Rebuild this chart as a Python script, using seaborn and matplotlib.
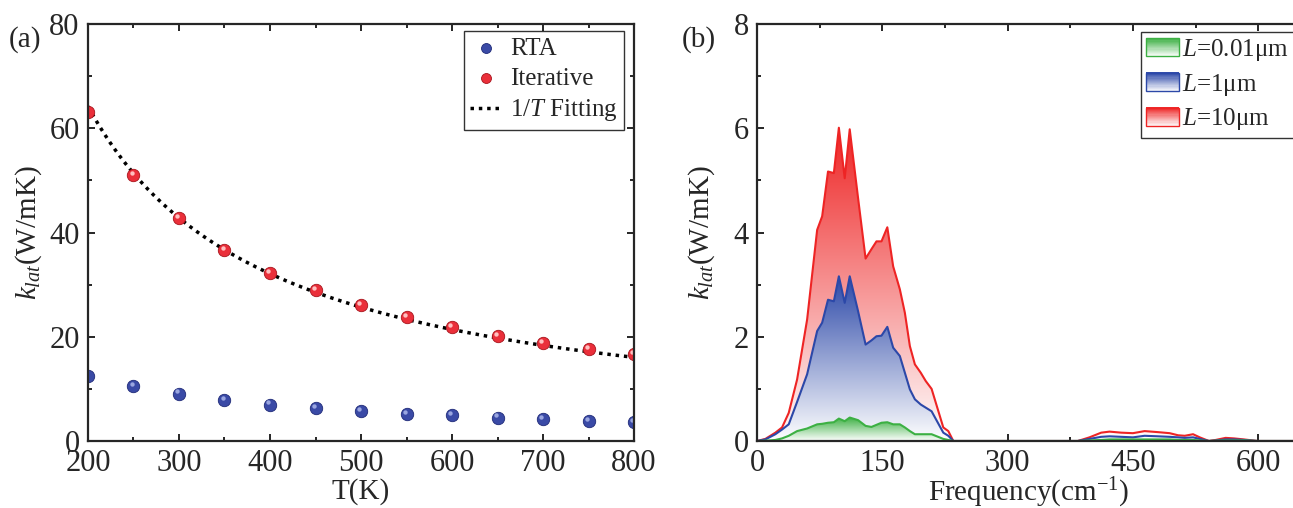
import numpy as np
import matplotlib
matplotlib.use("Agg")
import matplotlib.pyplot as plt
import matplotlib.colors as mcolors
from matplotlib.patches import Rectangle
from matplotlib.legend_handler import HandlerBase
from matplotlib.transforms import offset_copy
from matplotlib.ticker import MultipleLocator
import seaborn as sns

# ---------------- data ----------------
temperature = [200, 250, 300, 350, 400, 450, 500, 550, 600, 650, 700, 750, 800]
k_rta = [12.5, 10.6, 9.1, 7.9, 7.0, 6.3, 5.7, 5.2, 4.9, 4.5, 4.2, 3.9, 3.6]
k_iter = [63.2, 51.1, 42.8, 36.7, 32.3, 28.9, 26.0, 23.8, 21.8, 20.1, 18.8, 17.6, 16.6]

freq = [0, 10, 22, 30, 38, 48, 60, 72, 78, 85, 92, 98, 105, 111, 121, 130, 137, 143, 149, 156,
        163, 171, 177, 183, 189, 196, 202, 209, 223, 229, 235, 240,
        384, 398, 412, 422, 436, 450, 464, 480, 494, 504, 512, 522, 530, 541, 549, 561,
        571, 583, 599, 645]
k_L10 = [0, 0.04, 0.16, 0.26, 0.54, 1.18, 2.33, 4.05, 4.31, 5.17, 5.14, 6.01, 5.04, 5.98, 4.66, 3.50, 3.68, 3.83, 3.83, 4.10,
         3.35, 2.91, 2.46, 1.82, 1.47, 1.31, 1.15, 1.00, 0.26, 0.19, 0, 0,
         0, 0.07, 0.16, 0.18, 0.16, 0.15, 0.19, 0.17, 0.15, 0.11, 0.10, 0.13, 0.07, 0, 0.02, 0.06,
         0.05, 0.03, 0, 0]
k_L1 = [0, 0.03, 0.13, 0.22, 0.32, 0.75, 1.28, 2.11, 2.27, 2.71, 2.68, 3.16, 2.65, 3.16, 2.49, 1.85, 1.93, 2.01, 2.02, 2.19,
        1.79, 1.63, 1.31, 0.99, 0.80, 0.70, 0.64, 0.57, 0.16, 0.10, 0, 0,
        0, 0.04, 0.08, 0.09, 0.08, 0.07, 0.10, 0.09, 0.08, 0.07, 0.06, 0.07, 0.04, 0, 0.01, 0.03,
        0.03, 0.02, 0, 0]
k_L001 = [0, 0.005, 0.02, 0.05, 0.10, 0.19, 0.24, 0.32, 0.33, 0.35, 0.36, 0.43, 0.38, 0.45, 0.40, 0.29, 0.27, 0.31, 0.35, 0.36,
          0.32, 0.32, 0.26, 0.19, 0.13, 0.13, 0.13, 0.13, 0.04, 0.02, 0, 0,
          0, 0.01, 0.02, 0.03, 0.03, 0.03, 0.03, 0.03, 0.03, 0.02, 0.02, 0.02, 0.01, 0, 0.005, 0.01,
          0.01, 0.01, 0, 0]
length_labels = ["$L$=0.01μm", "$L$=1μm", "$L$=10μm"]

# ---------------- style ----------------
sns.set_style("ticks")
plt.rcParams["font.family"] = ["Liberation Serif", "DejaVu Serif"]
plt.rcParams["mathtext.fontset"] = "custom"
plt.rcParams["mathtext.rm"] = "Liberation Serif"
plt.rcParams["mathtext.it"] = "Liberation Serif:italic"
plt.rcParams["mathtext.bf"] = "Liberation Serif:bold"
plt.rcParams["axes.linewidth"] = 1.6
plt.rcParams["xtick.direction"] = "in"
plt.rcParams["ytick.direction"] = "in"

W, H = 1293, 508
fig = plt.figure(figsize=(W / 100, H / 100), dpi=100)
ax1 = fig.add_axes([88 / W, 1 - 441 / H, (634 - 88) / W, (441 - 24) / H])
ax2 = fig.add_axes([757 / W, 1 - 441 / H, 543 / W, (441 - 24) / H])

TICK_FS = 22
LABEL_FS = 21
LEG_FS = 18

def style_ax(ax):
    ax.tick_params(which="both", top=True, right=True, direction="in", width=1.4,
                   labelsize=TICK_FS, pad=6)
    ax.tick_params(which="major", length=5)
    ax.tick_params(which="minor", length=3)
    for s in ax.spines.values():
        s.set_linewidth(1.6)
        s.set_zorder(10)

# ---------------- panel (a) ----------------
blue = "#3a4aa6"
red = "#ea2f3a"
T = np.array(temperature, dtype=float)
kit = np.array(k_iter, dtype=float)
A = np.sum(kit / T) / np.sum(1.0 / T ** 2)  # least-squares 1/T fit to the iterative data
T_fit = np.linspace(200, 800, 300)

sns.lineplot(x=T_fit, y=A / T_fit, ax=ax1, color="black", lw=2.5,
             linestyle=(0, (1, 1.4)), label="1/$T$ Fitting", zorder=2)
sns.scatterplot(x=temperature, y=k_rta, ax=ax1, color=blue, s=80, edgecolor="#1f2a78",
                linewidth=0.6, label="RTA", zorder=3)
sns.scatterplot(x=temperature, y=k_iter, ax=ax1, color=red, s=80, edgecolor="#a8141c",
                linewidth=0.6, label="Iterative", zorder=3)
hl = offset_copy(ax1.transData, fig=fig, x=-1.2, y=1.5, units="points")
ax1.scatter(temperature, k_rta, s=10, color="#9aa6e0", transform=hl, zorder=4, linewidth=0)
ax1.scatter(temperature, k_iter, s=10, color="#ffc0c0", transform=hl, zorder=4, linewidth=0)

ax1.set_xlim(200, 800)
ax1.set_ylim(0, 80)
ax1.xaxis.set_major_locator(MultipleLocator(100))
ax1.xaxis.set_minor_locator(MultipleLocator(50))
ax1.yaxis.set_major_locator(MultipleLocator(20))
ax1.yaxis.set_minor_locator(MultipleLocator(10))
style_ax(ax1)
ax1.set_xlabel("T(K)", fontsize=LABEL_FS, labelpad=0)
ax1.set_ylabel("$k_{lat}$(W/mK)", fontsize=LABEL_FS, labelpad=4)
h, l = ax1.get_legend_handles_labels()
order = [l.index("RTA"), l.index("Iterative"), l.index("1/$T$ Fitting")]
leg1 = ax1.legend([h[i] for i in order], [l[i] for i in order], loc="upper right",
                  bbox_to_anchor=(624 / W, 1 - 31 / H), bbox_transform=fig.transFigure,
                  fontsize=LEG_FS, frameon=True, fancybox=False, edgecolor="black",
                  handlelength=1.3, handletextpad=0.3, borderpad=0.25, labelspacing=0.3,
                  borderaxespad=0, markerscale=0.8)
leg1.get_frame().set_linewidth(1.0)

# ---------------- panel (b) ----------------
series = [(k_L10, "#ee2424", 1), (k_L1, "#2c48a8", 2), (k_L001, "#3cb043", 3)]
fx = np.array(freq, dtype=float)

def gradient_fill(ax, x, y, color, z):
    y = np.asarray(y, dtype=float)
    poly = ax.fill_between(x, 0, y, facecolor="none", edgecolor="none", zorder=z)
    rgb = np.array(mcolors.to_rgb(color))
    n = 256
    t = np.linspace(0, 1, n)[:, None]
    img = np.ones((n, 1, 4))
    img[:, :, :3] = 1 - t[:, :, None] * (1 - rgb[None, None, :])
    im = ax.imshow(img, aspect="auto", extent=[x.min(), x.max(), 0, y.max()],
                   origin="lower", zorder=z, interpolation="bilinear")
    im.set_clip_path(poly.get_paths()[0], transform=ax.transData)

for vals, col, z in series:
    gradient_fill(ax2, fx, vals, col, z)
    sns.lineplot(x=freq, y=vals, ax=ax2, color=col, lw=1.5, sort=False,
                 estimator=None, zorder=z + 0.5)

ax2.set_xlim(0, 650)
ax2.set_ylim(0, 8)
ax2.xaxis.set_major_locator(MultipleLocator(150))
ax2.xaxis.set_minor_locator(MultipleLocator(75))
ax2.yaxis.set_major_locator(MultipleLocator(2))
ax2.yaxis.set_minor_locator(MultipleLocator(1))
style_ax(ax2)
ax2.set_xlabel("Frequency(cm$^{-1}$)", fontsize=LABEL_FS, labelpad=-2)
ax2.set_ylabel("$k_{lat}$(W/mK)", fontsize=LABEL_FS, labelpad=12)


class GradHandler(HandlerBase):
    def create_artists(self, legend, orig_handle, xdescent, ydescent, width, height,
                       fontsize, trans):
        col = orig_handle.get_edgecolor()
        rgb = np.array(col[:3])
        n = 16
        arts = []
        x0, y0 = -xdescent, -ydescent
        for i in range(n):
            t = (i + 0.5) / n
            c = 1 - t * (1 - rgb)
            r = Rectangle((x0, y0 + height * i / n), width, height / n + 0.3,
                          facecolor=c, edgecolor="none", transform=trans)
            arts.append(r)
        arts.append(Rectangle((x0, y0), width, height, facecolor="none",
                              edgecolor=col, lw=1.0, transform=trans))
        return arts


proxies = [Rectangle((0, 0), 1, 1, edgecolor="#3cb043", facecolor="none"),
           Rectangle((0, 0), 1, 1, edgecolor="#2c48a8", facecolor="none"),
           Rectangle((0, 0), 1, 1, edgecolor="#ee2424", facecolor="none")]
leg2 = ax2.legend(proxies, length_labels, handler_map={Rectangle: GradHandler()},
                  loc="upper left", bbox_to_anchor=(1141 / W, 1 - 32 / H),
                  bbox_transform=fig.transFigure, fontsize=LEG_FS, frameon=True,
                  fancybox=False, edgecolor="black", handlelength=1.3, handleheight=0.75,
                  handletextpad=0.15, borderpad=0.2, borderaxespad=0, labelspacing=0.35)
leg2.get_frame().set_linewidth(1.0)

fig.text(25 / W, 1 - 40 / H, "(a)", fontsize=LABEL_FS, ha="center", va="center")
fig.text(699 / W, 1 - 40 / H, "(b)", fontsize=LABEL_FS, ha="center", va="center")

fig.savefig("out.png", dpi=100)
